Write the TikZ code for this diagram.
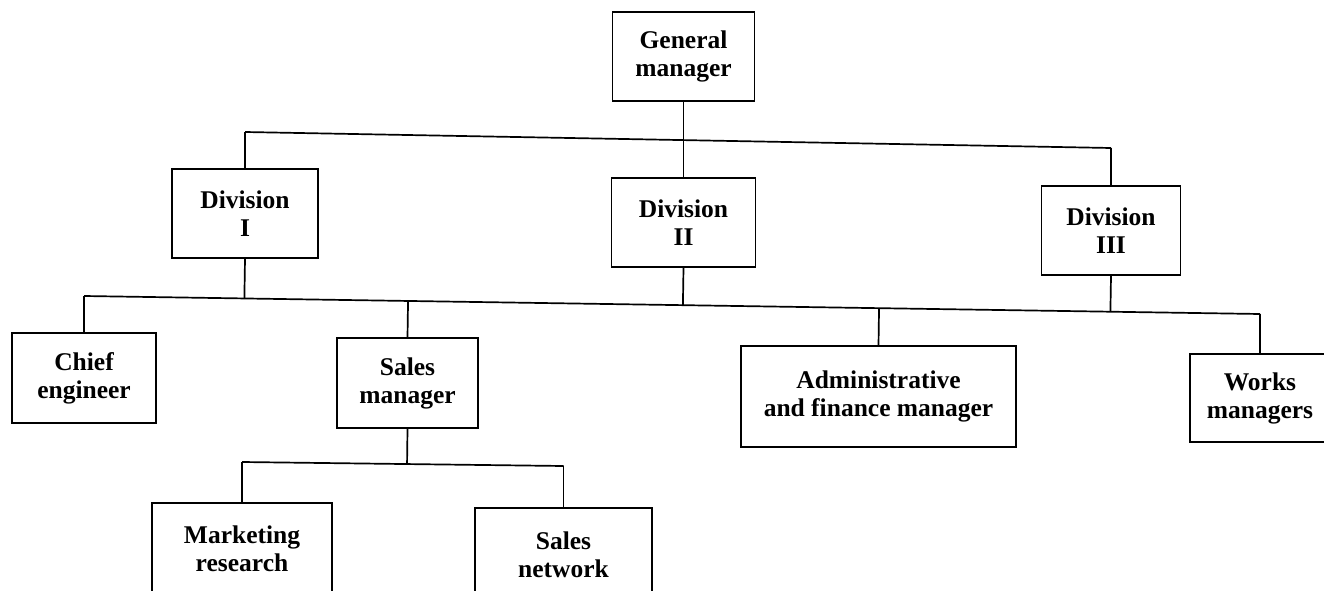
\documentclass[tikz,border=0pt]{standalone}
\usepackage{fontspec}
\setmainfont{Liberation Serif}
\usetikzlibrary{calc}
\begin{document}
\begin{tikzpicture}[x=1pt,y=-1pt,
  box/.style={draw, line width=1.5pt, align=center, inner sep=0pt,
    font=\fontsize{25.5}{28}\selectfont\bfseries},
  link/.style={line width=1.7pt}]
\useasboundingbox (0,0) rectangle (1324,591);
\clip (0,0) rectangle (1324,591);
% boxes
\node[box, minimum width=142pt, minimum height=89pt] (gm) at (683.5,56.5) {General\\manager};
\node[box, minimum width=146pt, minimum height=89pt] (d1) at (245,213.5) {Division\\I};
\node[box, minimum width=144pt, minimum height=89pt] (d2) at (683.5,222.5) {Division\\II};
\node[box, minimum width=139pt, minimum height=89pt] (d3) at (1111,230.5) {Division\\III};
\node[box, minimum width=144pt, minimum height=90pt] (chief) at (84,378) {Chief\\engineer};
\node[box, minimum width=141pt, minimum height=90pt] (sm) at (407.5,383) {Sales\\manager};
\node[box, minimum width=275pt, minimum height=101pt] (adm) at (878.5,396.5) {Administrative\\and finance manager};
\node[box, minimum width=140pt, minimum height=88pt] (works) at (1260,398) {Works\\managers};
\node[box, minimum width=180pt, minimum height=92pt] (mr) at (242,549) {Marketing\\research};
\node[box, minimum width=177pt, minimum height=94pt] (sn) at (563.5,555) {Sales\\network};
% bar ends
\coordinate (b1L) at (245,132);
\coordinate (b1R) at (1111,148);
\coordinate (b2L) at (84,296);
\coordinate (b2R) at (1260,314);
\coordinate (b3L) at (242,462);
\coordinate (b3R) at (563.5,466);
% level 1
\draw[link] (gm.south) -- (d2.north);
\draw[link] (b1L) -- (b1R);
\draw[link] (d1.north) -- (b1L);
\draw[link] (d3.north) -- (b1R);
% level 2
\draw[link] (b2L) -- (b2R);
\draw[link] (chief.north) -- (b2L);
\draw[link] (works.north) -- (b2R);
\draw[link] (d1.south) -- ($(b2L)!(d1.south)!(b2R)$);
\draw[link] (d2.south) -- ($(b2L)!(d2.south)!(b2R)$);
\draw[link] (d3.south) -- ($(b2L)!(d3.south)!(b2R)$);
\draw[link] (sm.north) -- ($(b2L)!(sm.north)!(b2R)$);
\draw[link] (adm.north) -- ($(b2L)!(adm.north)!(b2R)$);
% level 3
\draw[link] (b3L) -- (b3R);
\draw[link] (mr.north) -- (b3L);
\draw[link] (sn.north) -- (b3R);
\draw[link] (sm.south) -- ($(b3L)!(sm.south)!(b3R)$);
\end{tikzpicture}
\end{document}
